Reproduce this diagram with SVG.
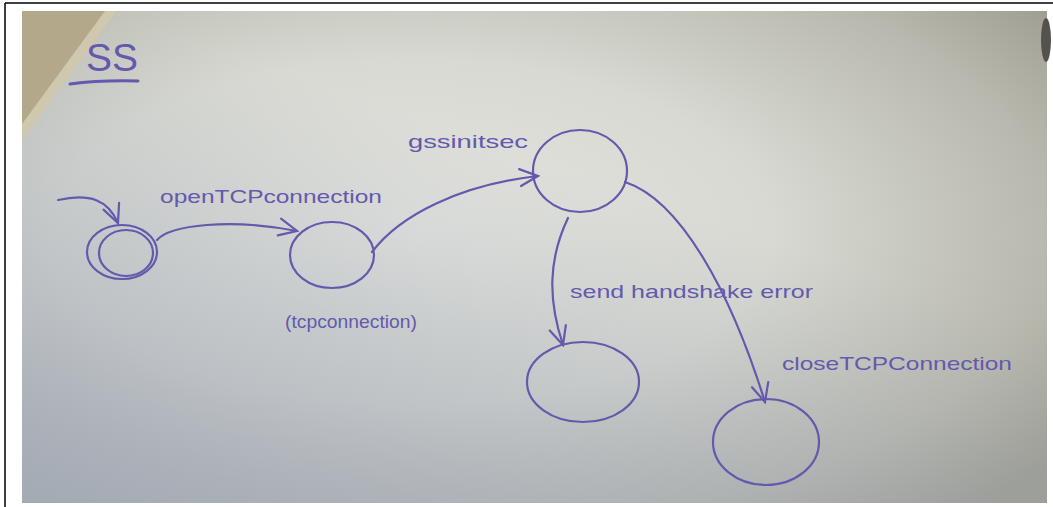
<svg xmlns="http://www.w3.org/2000/svg" width="1053" height="507" viewBox="0 0 1053 507">
<style>
.ink{fill:none;stroke:#6359ad;stroke-width:2.2;stroke-linecap:round;stroke-linejoin:round}
.lbl{font-family:"Liberation Sans","DejaVu Sans",sans-serif;font-size:19px;fill:#6359ad}
</style>
<defs>
<radialGradient id="paper" cx="0.38" cy="0.45" r="0.78">
<stop offset="0" stop-color="#e3e4df"/>
<stop offset="0.45" stop-color="#d8d9d2"/>
<stop offset="0.8" stop-color="#b8b8ae"/>
<stop offset="1" stop-color="#9c9c90"/>
</radialGradient>
<linearGradient id="blue" x1="0" y1="1" x2="0.5" y2="0.3">
<stop offset="0" stop-color="#a0a8b8" stop-opacity="0.8"/>
<stop offset="1" stop-color="#a0a8b8" stop-opacity="0"/>
</linearGradient>
<marker id="arr" viewBox="-20 -12 22 24" refX="0" refY="0" markerWidth="22" markerHeight="24" markerUnits="userSpaceOnUse" orient="auto">
<path d="M-18,-9 L0,0 L-18,8" fill="none" stroke="#6359ad" stroke-width="2.2" stroke-linecap="round"/>
</marker>
</defs>
<rect x="0" y="0" width="1053" height="507" fill="#ffffff"/>
<rect x="22" y="11" width="1025" height="492" fill="url(#paper)"/>
<rect x="22" y="11" width="1025" height="492" fill="url(#blue)"/>
<polygon points="22,11 117,11 22,138" fill="#b3a98a"/>
<polygon points="105,11 117,11 22,140 22,124" fill="#cfc8ae"/>
<ellipse cx="1046" cy="40" rx="5" ry="22" fill="#55524e"/>
<line x1="5" y1="3" x2="1053" y2="3" stroke="#000" stroke-width="1.5"/>
<line x1="5" y1="3" x2="5" y2="507" stroke="#000" stroke-width="1.5"/>

<g id="title">
<text x="86" y="71" class="lbl" style="font-size:38px" textLength="52" lengthAdjust="spacingAndGlyphs">SS</text>
<path class="ink" d="M70,84 Q100,80 138,81" style="stroke-width:3"/>
</g>

<g id="connectors">
<path class="ink" d="M58,200 C90,193 108,200 118,223" marker-end="url(#arr)"/>
<path class="ink" d="M157,240 C170,225 230,218 297,231" marker-end="url(#arr)"/>
<path class="ink" d="M372,252 C400,215 460,185 538,176" marker-end="url(#arr)"/>
<path class="ink" d="M568,218 C548,260 548,300 563,345" marker-end="url(#arr)"/>
<path class="ink" d="M625,182 C680,200 730,290 765,402" marker-end="url(#arr)"/>
<text x="160" y="203" class="lbl" textLength="222" lengthAdjust="spacingAndGlyphs">openTCPconnection</text>
<text x="408" y="148" class="lbl" textLength="120" lengthAdjust="spacingAndGlyphs">gssinitsec</text>
<text x="570" y="298" class="lbl" textLength="243" lengthAdjust="spacingAndGlyphs">send handshake error</text>
<text x="782" y="370" class="lbl" textLength="230" lengthAdjust="spacingAndGlyphs">closeTCPConnection</text>
</g>

<g id="start">
<ellipse class="ink" cx="122" cy="252" rx="35" ry="27"/>
<ellipse class="ink" cx="126" cy="253" rx="27" ry="23"/>
</g>

<g id="tcpconnection">
<ellipse class="ink" cx="332" cy="255" rx="42" ry="33"/>
<text x="285" y="328" class="lbl" textLength="132" lengthAdjust="spacingAndGlyphs">(tcpconnection)</text>
</g>

<g id="gss">
<ellipse class="ink" cx="580" cy="171" rx="47" ry="41"/>
</g>

<g id="error">
<ellipse class="ink" cx="583" cy="382" rx="56" ry="40"/>
</g>

<g id="closed">
<ellipse class="ink" cx="766" cy="442" rx="53" ry="43"/>
</g>
</svg>
